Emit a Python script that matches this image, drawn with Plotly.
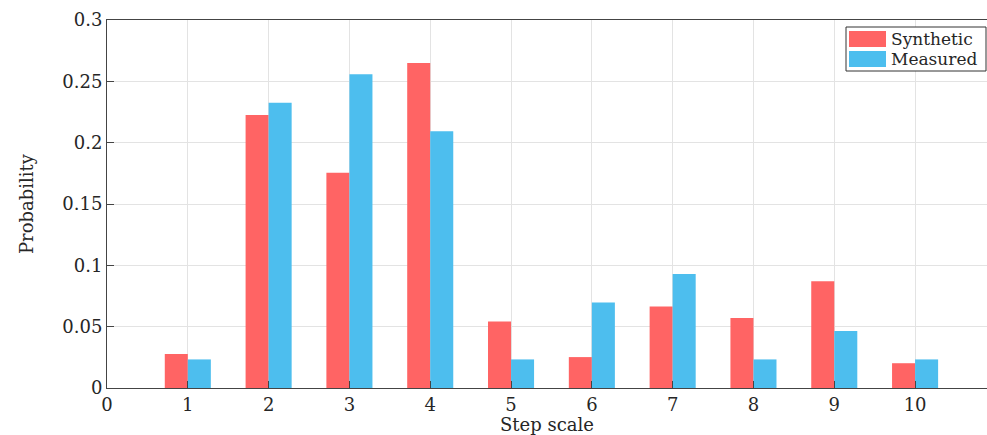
import plotly.graph_objects as go

steps = [1, 2, 3, 4, 5, 6, 7, 8, 9, 10]
synthetic = [0.0277, 0.2226, 0.1755, 0.265, 0.0542, 0.0252, 0.0664, 0.0571, 0.0870, 0.0202]
measured = [0.0233, 0.2326, 0.2558, 0.2093, 0.0233, 0.0698, 0.0930, 0.0233, 0.0465, 0.0233]
x_ticks = [0, 1, 2, 3, 4, 5, 6, 7, 8, 9, 10]
y_ticks = [0, 0.05, 0.1, 0.15, 0.2, 0.25, 0.3]
y_tick_text = ["0", "0.05", "0.1", "0.15", "0.2", "0.25", "0.3"]
series_names = ["Synthetic", "Measured"]
series_colors = ["#FF6464", "#4DBEEE"]

FONT = "DejaVu Serif"

fig = go.Figure()
for name, vals, col in zip(series_names, [synthetic, measured], series_colors):
    fig.add_trace(go.Bar(x=steps, y=vals, name=name, showlegend=False,
                         marker=dict(color=col, line=dict(width=0))))

axis_common = dict(
    showline=True, linecolor="#444444", linewidth=1, mirror=True,
    ticks="inside", ticklen=7, tickcolor="#444444",
    showgrid=True, gridcolor="#E3E3E3", gridwidth=1,
    zeroline=False, automargin=False,
    tickfont=dict(family=FONT, size=18, color="#262626"),
)

fig.update_layout(
    width=987, height=435,
    margin=dict(l=107, r=0, t=20, b=47),
    paper_bgcolor="white", plot_bgcolor="white",
    barmode="group", bargap=0.43, bargroupgap=0,
    font=dict(family=FONT, color="#262626"),
    showlegend=False,
    xaxis=dict(range=[0, 10.89], tickvals=x_ticks, ticktext=[str(v) for v in x_ticks],
               title=dict(text="Step scale", font=dict(family=FONT, size=18), standoff=3),
               **axis_common),
    yaxis=dict(range=[0, 0.3], tickvals=y_ticks, ticktext=y_tick_text,
               title=dict(text="Probability", font=dict(family=FONT, size=18), standoff=24),
               **axis_common),
)

# Manual legend box (paper coordinates of plot area: x 107..987 px, y 20..388 px)
def px_x(p):
    return (p - 107) / 880.0

def px_y(p):
    return (388 - p) / 368.0

fig.add_shape(type="rect", xref="paper", yref="paper",
              x0=px_x(846), x1=px_x(986), y0=px_y(71), y1=px_y(27),
              line=dict(color="#333333", width=1), fillcolor="white", layer="above")
swatch_tops = [31, 51]
for name, col, top in zip(series_names, series_colors, swatch_tops):
    fig.add_shape(type="rect", xref="paper", yref="paper",
                  x0=px_x(849), x1=px_x(886), y0=px_y(top + 16), y1=px_y(top),
                  line=dict(width=0), fillcolor=col, layer="above")
    fig.add_annotation(xref="paper", yref="paper", x=px_x(889), y=px_y(top + 8),
                       text=name, showarrow=False, xanchor="left", yanchor="middle",
                       font=dict(family=FONT, size=17, color="#262626"))

fig.write_html("out.html",
               config={"displayModeBar": False},
               post_script="document.body.style.margin='0';document.body.style.overflow='hidden';")
